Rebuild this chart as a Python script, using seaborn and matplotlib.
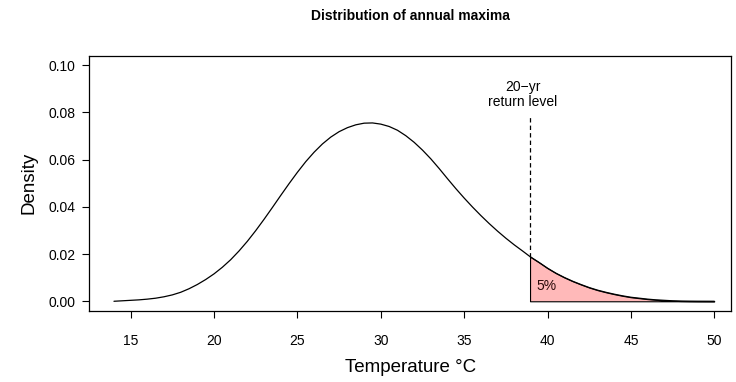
import numpy as np
import pandas as pd
import matplotlib
matplotlib.use("Agg")
import matplotlib.pyplot as plt
import seaborn as sns

# density of annual maxima
temps = [14.0, 14.5, 15.0, 15.5, 16.0, 16.5, 17.0, 17.5, 18.0, 18.5, 19.0, 19.5,
         20.0, 20.5, 21.0, 21.5, 22.0, 22.5, 23.0, 23.5, 24.0, 24.5, 25.0, 25.5,
         26.0, 26.5, 27.0, 27.5, 28.0, 28.5, 29.0, 29.5, 30.0, 30.5, 31.0, 31.5,
         32.0, 32.5, 33.0, 33.5, 34.0, 34.5, 35.0, 35.5, 36.0, 36.5, 37.0, 37.5,
         38.0, 38.5, 38.95, 39.5, 40.0, 40.5, 41.0, 41.5, 42.0, 42.5, 43.0, 43.5,
         44.0, 44.5, 45.0, 45.5, 46.0, 46.5, 47.0, 47.5, 48.0, 48.5, 49.0, 50.0]
density = [0.0000, 0.0002, 0.0004, 0.0006, 0.0009, 0.0013, 0.0019, 0.0027, 0.0038, 0.0053, 0.0071, 0.0092,
           0.0116, 0.0144, 0.0176, 0.0213, 0.0254, 0.0299, 0.0347, 0.0397, 0.0448, 0.0498, 0.0546, 0.0591,
           0.0631, 0.0666, 0.0695, 0.0718, 0.0735, 0.0747, 0.0754, 0.0755, 0.0750, 0.0740, 0.0724, 0.0701,
           0.0673, 0.0640, 0.0603, 0.0562, 0.0519, 0.0477, 0.0437, 0.0399, 0.0363, 0.0329, 0.0297, 0.0267,
           0.0239, 0.0213, 0.0189, 0.0164, 0.0140, 0.0119, 0.0101, 0.0085, 0.0071, 0.0058, 0.0047, 0.0038,
           0.0030, 0.0023, 0.0017, 0.0013, 0.0009, 0.0006, 0.0004, 0.0002, 0.0001, 0.00005, 0.00002, 0.0000]
return_level = 38.95
x_ticks = [15, 20, 25, 30, 35, 40, 45, 50]
y_ticks = [0.00, 0.02, 0.04, 0.06, 0.08, 0.10]

df = pd.DataFrame({"temp": temps, "density": density})
tail = df[df["temp"] >= return_level]
rl_density = df.loc[df["temp"] == return_level, "density"].iloc[0]

sns.set_style("ticks")
plt.rcParams["font.family"] = ["Liberation Sans", "DejaVu Sans"]
plt.rcParams["text.color"] = "black"
plt.rcParams["axes.labelcolor"] = "black"

fig = plt.figure(figsize=(7.36, 3.82), dpi=100)
ax = fig.add_axes([0.1213, 0.1866, 0.8719, 0.6678])

ax.fill_between(tail["temp"], 0, tail["density"], facecolor="#ffb9b9",
                edgecolor="black", linewidth=0.8)
sns.lineplot(data=df, x="temp", y="density", color="black", linewidth=0.9,
             ax=ax, estimator=None)
ax.vlines(return_level, rl_density, 0.079, colors="black", linewidth=0.9,
          linestyles=(0, (3.5, 2.5)))
ax.text(38.5, 0.0876, "20\u2212yr\nreturn level", ha="center", va="center",
        fontsize=10, linespacing=1.1, color="black")
ax.text(39.95, 0.0065, "5%", ha="center", va="center", fontsize=10, color="#2a0a0a")

ax.set_xlim(12.52, 51.0)
ax.set_ylim(-0.004, 0.104)
ax.set_xticks(x_ticks)
ax.set_yticks(y_ticks)
ax.set_yticklabels([f"{v:.2f}" for v in y_ticks])
ax.tick_params(direction="out", length=5, width=0.8, labelsize=10,
               colors="black", labelcolor="black")
ax.tick_params(axis="x", pad=12)
ax.tick_params(axis="y", pad=5)
for s in ax.spines.values():
    s.set_visible(True)
    s.set_color("black")
    s.set_linewidth(0.9)

ax.set_xlabel("Temperature \u00b0C", fontsize=13.5, labelpad=8, color="black")
ax.set_ylabel("Density", fontsize=13.5, labelpad=8, color="black")
ax.set_title("Distribution of annual maxima", fontsize=10, fontweight="bold",
             pad=26, color="black")

fig.savefig("out.png", dpi=100)
